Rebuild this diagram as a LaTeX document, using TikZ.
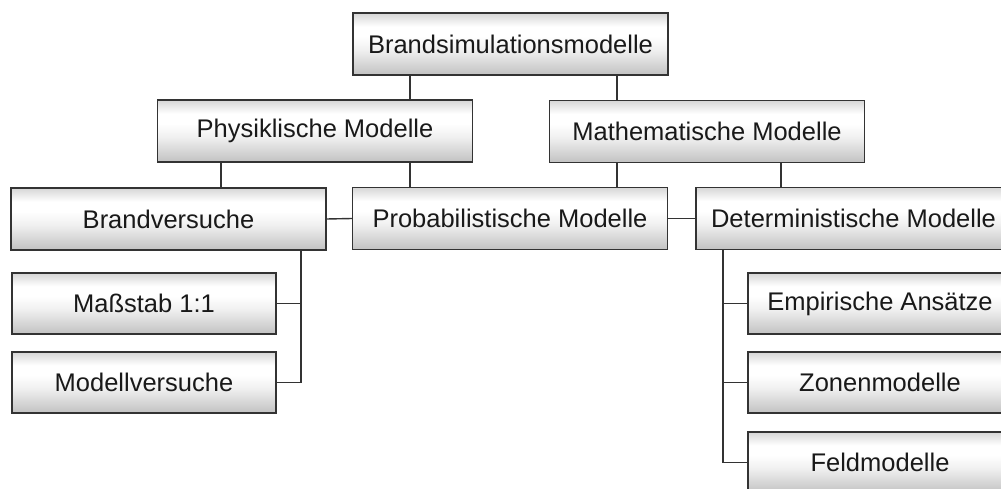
\documentclass[tikz,border=0pt]{standalone}
\usepackage{fontspec}
\setmainfont{Liberation Sans}
\pgfdeclareverticalshading{boxshade}{100bp}{color(0bp)=(black!24); color(25bp)=(black!24); color(45bp)=(black!6); color(56bp)=(white); color(64bp)=(white); color(75bp)=(black!16); color(100bp)=(black!16)}
\tikzset{
  box/.style={draw=black!80, line width=1.4pt, shading=boxshade, rectangle,
    minimum height=62pt, inner sep=0pt, text=black!90,
    font=\fontsize{25.5}{30}\selectfont},
  wide/.style={box, minimum width=315pt},
  narrow/.style={box, minimum width=264pt, minimum height=61pt},
  link/.style={draw=black!80, line width=1.4pt}
}
\begin{document}
\begin{tikzpicture}[x=1pt,y=-1pt]
\useasboundingbox (0,0) rectangle (1001,489);
\clip (0,0) rectangle (1001,489);
\node[wide] (root) at (510.5,44) {Brandsimulationsmodelle};
\node[wide] (phys) at (315,131) {Physiklische Modelle};
\node[wide] (math) at (707,131.5) {Mathematische Modelle};
\node[wide] (brandv) at (168.5,219) {Brandversuche};
\node[wide] (prob) at (510,218.5) {Probabilistische Modelle};
\node[wide] (det) at (853.5,218.5) {Deterministische Modelle};
\node[narrow] (mass) at (144,303.5) {Maßstab 1:1};
\node[narrow] (modv) at (144,382.5) {Modellversuche};
\node[narrow] (emp) at (880,303.5) {Empirische Ansätze};
\node[narrow] (zon) at (880,382.5) {Zonenmodelle};
\node[narrow] (feld) at (880,462.5) {Feldmodelle};
\coordinate (xa) at (410,0);
\coordinate (xb) at (617,0);
\coordinate (xc) at (221,0);
\coordinate (xd) at (781,0);
\coordinate (bv) at (301,0);
\coordinate (dv) at (723,0);
\path[link] (root.south -| xa) -- (phys.north -| xa);
\path[link] (root.south -| xb) -- (math.north -| xb);
\path[link] (phys.south -| xc) -- (brandv.north -| xc);
\path[link] (phys.south -| xa) -- (prob.north -| xa);
\path[link] (math.south -| xb) -- (prob.north -| xb);
\path[link] (math.south -| xd) -- (det.north -| xd);
\path[link] (brandv.east) -- (prob.west);
\path[link] (prob.east) -- (det.west);
\path[link] (brandv.south -| bv) -- (modv.east -| bv) -- (modv.east);
\path[link] (mass.east) -- (mass.east -| bv);
\path[link] (det.south -| dv) -- (feld.west -| dv) -- (feld.west);
\path[link] (emp.west) -- (emp.west -| dv);
\path[link] (zon.west) -- (zon.west -| dv);
\end{tikzpicture}
\end{document}
